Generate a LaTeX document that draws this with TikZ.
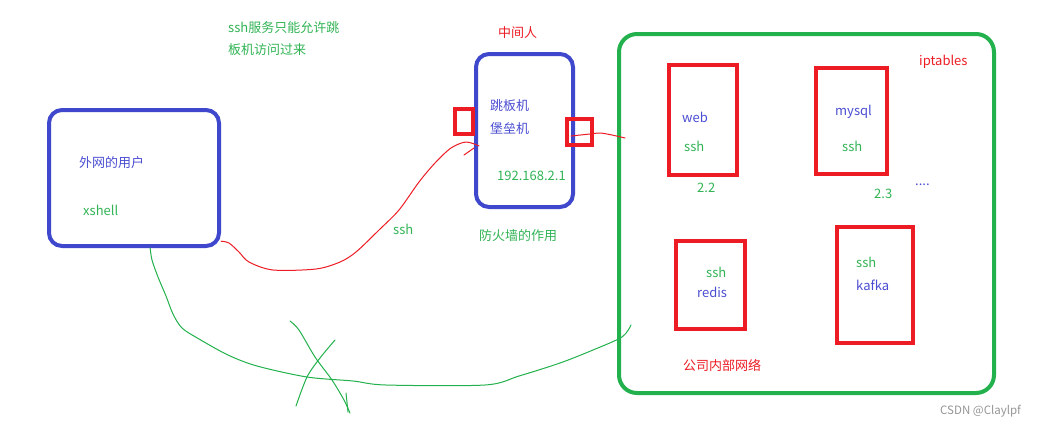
\documentclass[tikz,border=0pt]{standalone}
\usepackage{fontspec}
\setmainfont{Noto Sans CJK SC}
\definecolor{boxblue}{RGB}{63,72,204}
\definecolor{txtblue}{RGB}{75,78,210}
\definecolor{lgreen}{RGB}{34,177,76}
\definecolor{tgreen}{RGB}{50,180,85}
\definecolor{myred}{RGB}{237,28,36}
\definecolor{wmgray}{RGB}{150,150,150}
\begin{document}
\begin{tikzpicture}[x=1pt,y=-1pt,
  bluebox/.style={draw=boxblue,line width=4pt,rounded corners=13pt,inner sep=0pt},
  greenbox/.style={draw=lgreen,line width=4pt,rounded corners=18pt,inner sep=0pt},
  redbox/.style={draw=myred,line width=4pt,inner sep=0pt},
  portbox/.style={draw=myred,line width=3.5pt,inner sep=0pt},
  gt/.style={text=tgreen,anchor=west,inner sep=0pt,font=\fontsize{13}{15}\selectfont},
  bt/.style={text=txtblue,anchor=west,inner sep=0pt,font=\fontsize{13}{15}\selectfont},
  rt/.style={text=myred,anchor=west,inner sep=0pt,font=\fontsize{13}{15}\selectfont},
  hand/.style={line width=1pt,line cap=round,line join=round}
]
\useasboundingbox (0,0) rectangle (1042,429);
\fill[white] (0,0) rectangle (1042,429);

% main boxes
\node[bluebox,minimum width=170pt,minimum height=136pt] (user) at (134,178) {};
\node[bluebox,minimum width=97pt,minimum height=153pt] (jump) at (524.5,130.5) {};
\node[greenbox,minimum width=375pt,minimum height=359pt] (lan) at (806.5,213.5) {};

% servers
\node[redbox,minimum width=68pt,minimum height=110pt] (web) at (703,120) {};
\node[redbox,minimum width=71pt,minimum height=106pt] (mysql) at (851.5,121) {};
\node[redbox,minimum width=69pt,minimum height=88pt] (redis) at (710.5,285) {};
\node[redbox,minimum width=76pt,minimum height=116pt] (kafka) at (875,285) {};

% ports on jump host
\node[portbox,minimum width=18pt,minimum height=25pt] (pin) at (464,121.5) {};
\node[portbox,minimum width=25pt,minimum height=26pt] (pout) at (579.5,132) {};

% texts
\node[gt] (note1) at (228,28) {ssh服务只能允许跳};
\node[gt] (note2) at (228,50) {板机访问过来};
\node[rt] (mitm) at (498,33) {中间人};
\node[bt] (j1) at (490,106) {跳板机};
\node[bt] (j2) at (490,129) {堡垒机};
\node[gt] (ip) at (497,176) {192.168.2.1};
\node[bt] (u1) at (79,163) {外网的用户};
\node[gt] (u2) at (83,210) {xshell};
\node[gt] (sshlbl) at (393,229) {ssh};
\node[gt] (fw) at (479,236) {防火墙的作用};
\node[rt] (ipt) at (919,62) {iptables};
\node[bt] (t1) at (682,117) {web};
\node[gt] (t2) at (684,146) {ssh};
\node[bt] (t3) at (835,112) {mysql};
\node[gt] (t4) at (842,146) {ssh};
\node[gt] (a22) at (697,188) {2.2};
\node[gt] (a23) at (874,194) {2.3};
\node[bt] (dots) at (915,185) {....};
\node[gt] (t5) at (706,272) {ssh};
\node[bt] (t6) at (697,292) {redis};
\node[gt] (t7) at (856,262) {ssh};
\node[bt] (t8) at (856,285) {kafka};
\node[rt] (corp) at (683,365) {公司内部网络};
\node[text=wmgray,anchor=west,inner sep=0pt,font=\fontsize{11.5}{13}\selectfont] (wm) at (940,411) {CSDN @Claylpf};

% connectors (hand drawn)
\coordinate (redend) at (479,146);
\coordinate (outend) at (625,138);
\coordinate (greenend) at (631,325);

\draw[myred,hand] plot[smooth,tension=0.5] coordinates {(user.-36) (229,243) (239,252) (249,262) (273,270) (316,269) (340,262) (356,252) (379,230) (399,210) (419,182) (435,163) (451,148) (466,142) (redend)};
\draw[myred,hand] (464,155) -- (474,148);
\draw[myred,hand] plot[smooth,tension=0.5] coordinates {(571,136) (590,134) (600,133) (612,135) (outend)};

\draw[lgreen,hand] plot[smooth,tension=0.5] coordinates {(user.-77) (152,260) (158,277) (166,296) (173,314) (182,328) (199,339) (228,355) (257,366) (307,377) (353,381) (386,385) (485,385) (519,376) (560,363) (593,350) (622,337) (greenend)};
\draw[lgreen,hand] plot[smooth,tension=0.5] coordinates {(290,321) (299,330) (315,357) (332,380) (344,400) (350,413)};
\draw[lgreen,hand] (346,393) -- (348,412);
\draw[lgreen,hand] plot[smooth,tension=0.5] coordinates {(335,340) (320,358) (307,377) (296,406)};
\end{tikzpicture}
\end{document}
